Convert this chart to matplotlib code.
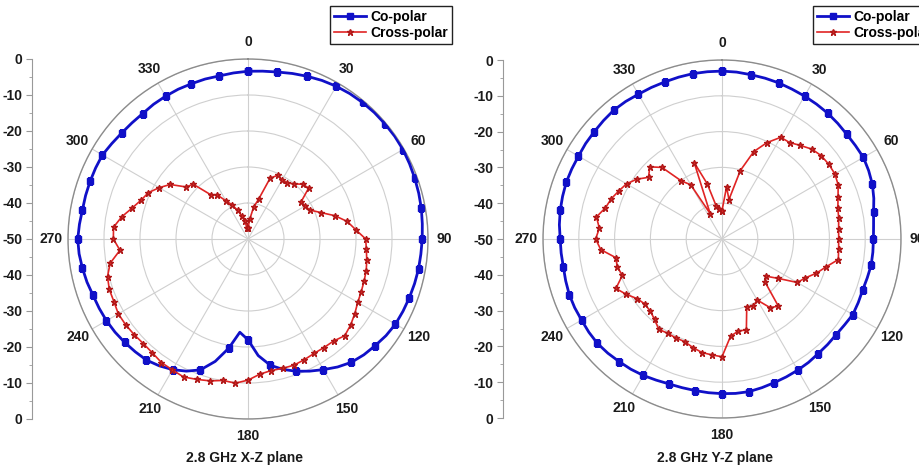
import numpy as np
import matplotlib.pyplot as plt

plt.rcParams['font.family'] = ['Liberation Sans', 'DejaVu Sans']
plt.rcParams['font.weight'] = 'bold'

# angles in degrees, 5 degree steps
angles = np.arange(0, 360, 5)

# 2.8 GHz X-Z plane (dB)
xz_co = [-3.4, -3.2, -2.9, -2.4, -1.9, -1.4, -1.0, -0.7, -0.5, -0.35, -0.3, -0.25,
         -0.3, -0.5, -0.7, -0.9, -1.1, -1.4, -1.6, -1.8, -1.9, -2.1, -2.3, -2.5,
         -2.7, -3.2, -3.9, -4.5, -5.3, -6.6, -8.1, -9.5, -10.9, -12.5, -14.4, -17.5,
         -22.0, -24.0, -19.2, -14.8, -11.3, -9.5, -8.1, -7.0, -6.1, -5.7, -5.3, -4.9,
         -4.6, -4.4, -4.2, -3.7, -3.3, -2.9, -2.7, -3.0, -3.3, -3.3, -3.3, -3.3,
         -3.3, -3.8, -4.2, -4.4, -4.5, -4.3, -4.2, -4.1, -4.1, -4.0, -4.0, -3.7]
xz_cross = [-47.0, -44.5, -41.0, -38.5, -32.0, -30.5, -31.0, -31.0, -30.0, -28.5, -28.0, -32.0,
            -31.7, -31.0, -28.5, -25.0, -22.0, -20.0, -17.3, -17.0, -16.5, -16.0, -15.7, -15.3,
            -14.8, -13.8, -12.8, -12.0, -13.0, -13.2, -13.3, -13.0, -12.7, -12.8, -12.9, -12.3,
            -10.8, -9.8, -10.1, -9.2, -8.5, -7.7, -8.0, -8.1, -8.7, -8.9, -8.7, -8.5,
            -8.4, -8.9, -9.0, -9.6, -11.1, -14.3, -12.6, -12.5, -14.4, -16.7, -18.4, -19.5,
            -21.5, -23.6, -27.5, -28.5, -34.0, -35.0, -37.8, -39.5, -41.5, -43.4, -45.0, -47.0]

# 2.8 GHz Y-Z plane (dB)
yz_co = [-3.1, -3.2, -3.4, -3.5, -3.6, -3.8, -3.9, -4.0, -4.1, -4.3, -4.5, -4.5,
         -4.4, -4.8, -5.3, -6.1, -7.0, -7.5, -7.7, -7.7, -7.7, -8.0, -8.2, -8.0,
         -7.8, -8.2, -8.4, -8.3, -8.2, -7.9, -7.7, -7.5, -7.3, -7.0, -6.7, -6.7,
         -6.8, -6.9, -7.0, -7.0, -6.9, -6.5, -6.0, -5.6, -5.3, -4.9, -4.6, -4.6,
         -4.7, -4.6, -4.6, -4.8, -5.0, -4.9, -4.8, -4.4, -4.1, -3.9, -3.7, -3.7,
         -3.7, -3.5, -3.4, -3.2, -3.0, -3.1, -3.3, -3.3, -3.3, -3.2, -3.1, -3.1]
yz_cross = [-42.1, -35.4, -38.8, -30.2, -24.0, -20.3, -17.2, -17.1, -15.9, -14.5, -13.8, -13.6,
            -13.6, -14.2, -15.5, -16.5, -16.9, -17.3, -17.4, -17.3, -17.0, -19.9, -22.0, -24.3,
            -25.7, -30.8, -33.8, -33.0, -25.5, -26.6, -30.3, -29.3, -29.8, -23.7, -23.9, -22.7,
            -17.1, -17.5, -17.8, -18.6, -19.5, -19.5, -19.6, -19.2, -20.7, -21.6, -21.8, -21.0,
            -19.1, -17.3, -20.4, -19.7, -19.9, -16.0, -14.7, -15.6, -14.4, -16.3, -17.1, -18.2,
            -19.2, -20.9, -23.2, -21.5, -23.9, -30.2, -32.5, -42.2, -27.3, -34.0, -40.6, -41.5]

W, H = 920, 468
fig = plt.figure(figsize=(W / 100, H / 100), dpi=100)


def closed(v):
    return np.append(v, v[0])


def panel(cx, cy, rad, axis_x, co, cross, title, title_x, legend_x):
    rect = [(cx - rad) / W, (H - cy - rad) / H, 2 * rad / W, 2 * rad / H]
    ax = fig.add_axes(rect, projection='polar')
    ax.set_theta_zero_location('N')
    ax.set_theta_direction(-1)
    ax.set_rlim(-50, 0)
    ax.set_rticks([-40, -30, -20, -10, 0])
    ax.set_yticklabels([])
    ax.set_thetagrids(np.arange(0, 360, 30), [str(a) for a in range(0, 360, 30)],
                      fontsize=10, fontweight='bold', color='#1a1a1a')
    ax.set_xticks(np.deg2rad(np.arange(15, 360, 30)), minor=True)
    ax.tick_params(axis='x', which='major', length=0, pad=5)
    ax.tick_params(axis='x', which='minor', length=4, direction='in', color='#999999')
    ax.grid(color='#cfcfcf', lw=0.8)
    ax.spines['polar'].set_color('#8c8c8c')
    ax.spines['polar'].set_linewidth(1.0)

    th = np.deg2rad(np.append(angles, 360))
    ax.plot(th, closed(co), color='#1010c8', lw=2.0, marker='s', ms=5,
            markevery=2, label='Co-polar', zorder=3)
    ax.plot(th, closed(cross), color='#e02424', lw=1.2, marker='*', ms=4.5,
            mec='#b01818', label='Cross-polar', zorder=4)

    leg = ax.legend(loc='upper left', bbox_to_anchor=(legend_x / W, 1 - 6 / H),
                    bbox_transform=fig.transFigure, fancybox=False, framealpha=1,
                    edgecolor='#222222', prop={'size': 10, 'weight': 'bold'},
                    handlelength=2.3, handletextpad=0.3, borderpad=0.3,
                    labelspacing=0.15, borderaxespad=0)
    leg.get_frame().set_linewidth(1.0)

    # linear dB scale at the side
    lin = fig.add_axes([axis_x / W, rect[1], 0.0005, rect[3]])
    for s in ['top', 'right', 'bottom']:
        lin.spines[s].set_visible(False)
    lin.spines['left'].set_color('#999999')
    lin.set_xticks([])
    lin.set_ylim(-50, 50)
    pos = np.arange(-50, 51, 10)
    lin.set_yticks(pos)
    lin.set_yticklabels([str(abs(p) - 50) for p in pos])
    lin.set_yticks(np.arange(-45, 50, 10), minor=True)
    lin.tick_params(axis='y', which='major', length=4, color='#999999', pad=3,
                    labelsize=10, labelcolor='#1a1a1a')
    lin.tick_params(axis='y', which='minor', length=2.5, color='#999999')
    for t in lin.get_yticklabels():
        t.set_fontweight('bold')

    fig.text(title_x / W, 1 - 458 / H, title, ha='center', va='center',
             fontsize=10, fontweight='bold', color='#1a1a1a')


panel(248, 239, 180, 32, xz_co, xz_cross, '2.8 GHz X-Z plane', 244, 330)
panel(722, 239, 179, 503, yz_co, yz_cross, '2.8 GHz Y-Z plane', 715, 813)

fig.savefig('out.png', dpi=100, facecolor='white')
